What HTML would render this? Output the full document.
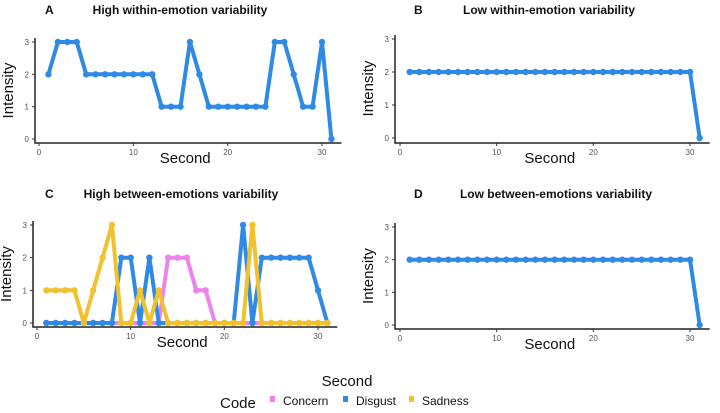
<!DOCTYPE html>
<html><head><meta charset="utf-8">
<style>
html,body{margin:0;padding:0;background:#fff;}
svg{display:block;font-family:"Liberation Sans",sans-serif;}
</style></head>
<body>
<svg id="chart" width="720" height="413" viewBox="0 0 720 413" xmlns="http://www.w3.org/2000/svg"></svg>
<script>
const seconds = [1,2,3,4,5,6,7,8,9,10,11,12,13,14,15,16,17,18,19,20,21,22,23,24,25,26,27,28,29,30,31];
const panelA = [2,3,3,3,2,2,2,2,2,2,2,2,1,1,1,3,2,1,1,1,1,1,1,1,3,3,2,1,1,3,0];
const panelB = [2,2,2,2,2,2,2,2,2,2,2,2,2,2,2,2,2,2,2,2,2,2,2,2,2,2,2,2,2,2,0];
const concern = [0,0,0,0,0,0,0,0,0,0,0,0,0,2,2,2,1,1,0,0,0,0,0,0,0,0,0,0,0,0,0];
const disgust = [0,0,0,0,0,0,0,0,2,2,0,2,0,0,0,0,0,0,0,0,0,3,0,2,2,2,2,2,2,1,0];
const sadness = [1,1,1,1,0,1,2,3,0,0,1,0,1,0,0,0,0,0,0,0,0,0,3,0,0,0,0,0,0,0,0];
const panelD = [2,2,2,2,2,2,2,2,2,2,2,2,2,2,2,2,2,2,2,2,2,2,2,2,2,2,2,2,2,2,0];
const xTicks = [0,10,20,30];
const yTicks = [0,1,2,3];
const legendLabels = ["Concern","Disgust","Sadness"];
const colors = {Concern:"#ee82ee", Disgust:"#2f8ae6", Sadness:"#f2c12e"};

const svg = document.getElementById('chart');
const NS = "http://www.w3.org/2000/svg";
function mk(tag, attrs, parent){
  const e = document.createElementNS(NS, tag);
  for (const k in attrs) e.setAttribute(k, attrs[k]);
  (parent||svg).appendChild(e);
  return e;
}

function panel(p){
  const g = mk('g', {});
  
  
  const sx = v => p.x0 + (p.x30 - p.x0) * v / 30;
  const sy = v => p.y0 + (p.y3 - p.y0) * v / 3;
  const lt = mk('text', {x:p.lx, y:p.ty, 'font-size':12, 'font-weight':'bold', fill:'#111'}, g);
  lt.textContent = p.letter;
  
  
  const tt = mk('text', {x:p.tx, y:p.ty, 'font-size':12, 'font-weight':'bold', fill:'#111', 'text-anchor':'middle'}, g);
  tt.textContent = p.title;
  
  
  // axes
  const ax = mk('path', {d:`M${p.ax},${sy(3)-4} V${p.ay} H${sx(31)+10}`, fill:'none', stroke:'#222', 'stroke-width':1.5}, g);
  
  
  yTicks.forEach(t => {
    mk('line', {x1:p.ax-3, x2:p.ax, y1:sy(t), y2:sy(t), stroke:'#333', 'stroke-width':1}, g);
    const tl = mk('text', {x:p.ax-6, y:sy(t)+3, 'font-size':8, fill:'#555', 'text-anchor':'end'}, g);
    tl.textContent = t;
    
    
  });
  xTicks.forEach(t => {
    mk('line', {x1:sx(t), x2:sx(t), y1:p.ay, y2:p.ay+3, stroke:'#333', 'stroke-width':1}, g);
    const tl = mk('text', {x:sx(t), y:p.ay+12, 'font-size':8, fill:'#555', 'text-anchor':'middle'}, g);
    tl.textContent = t;
    
    
  });
  const yl = mk('text', {x:0, y:0, 'font-size':15, fill:'#111', 'text-anchor':'middle', transform:`translate(${p.ax-22},${(sy(0)+sy(3))/2}) rotate(-90)`}, g);
  yl.textContent = 'Intensity';
  
  
  const xl = mk('text', {x:(sx(0)+sx(31))/2, y:p.ay+20, 'font-size':15, fill:'#111', 'text-anchor':'middle'}, g);
  xl.textContent = 'Second';
  
  
  p.series.forEach(s => {
    const pts = seconds.map((x,i) => `${sx(x).toFixed(1)},${sy(s.vals[i]).toFixed(1)}`).join(' ');
    const line = mk('polyline', {points:pts, fill:'none', stroke:s.color, 'stroke-width':4, 'stroke-linejoin':'round'}, g);
    
    
    seconds.forEach((x,i) => {
      const c = mk('circle', {cx:sx(x), cy:sy(s.vals[i]), r:3.2, fill:s.color}, g);
      
      
    });
  });
}

panel({letter:'A', title:'High within-emotion variability', lx:45, tx:180, ty:14,
  x0:39, x30:322, y0:139, y3:42, ax:35, ay:143,
  series:[{name:'intensity', vals:panelA, color:colors.Disgust}]});
panel({letter:'B', title:'Low within-emotion variability', lx:414, tx:549, ty:14,
  x0:400, x30:690, y0:138, y3:39, ax:395, ay:143,
  series:[{name:'intensity', vals:panelB, color:colors.Disgust}]});
panel({letter:'C', title:'High between-emotions variability', lx:45, tx:181, ty:198,
  x0:37, x30:318, y0:323, y3:225, ax:33, ay:327,
  series:[{name:'concern', vals:concern, color:colors.Concern},
          {name:'disgust', vals:disgust, color:colors.Disgust},
          {name:'sadness', vals:sadness, color:colors.Sadness}]});
panel({letter:'D', title:'Low between-emotions variability', lx:414, tx:556, ty:198,
  x0:400, x30:690, y0:325, y3:227, ax:395, ay:329,
  series:[{name:'intensity', vals:panelD, color:colors.Disgust}]});

// global x title
const gt = mk('text', {x:347, y:386, 'font-size':15, fill:'#111', 'text-anchor':'middle'});
gt.textContent = 'Second';


const lg = mk('g', {});


const lt = mk('text', {x:220, y:408, 'font-size':15, fill:'#111'}, lg);
lt.textContent = 'Code';


const lx = [270, 343, 409];
legendLabels.forEach((name, i) => {
  const r = mk('rect', {x:lx[i], y:396, width:5, height:6, fill:colors[name]}, lg);
  
  
  const t = mk('text', {x:lx[i]+13, y:405, 'font-size':12, fill:'#111'}, lg);
  t.textContent = name;
  
  
});
</script>
</body></html>
